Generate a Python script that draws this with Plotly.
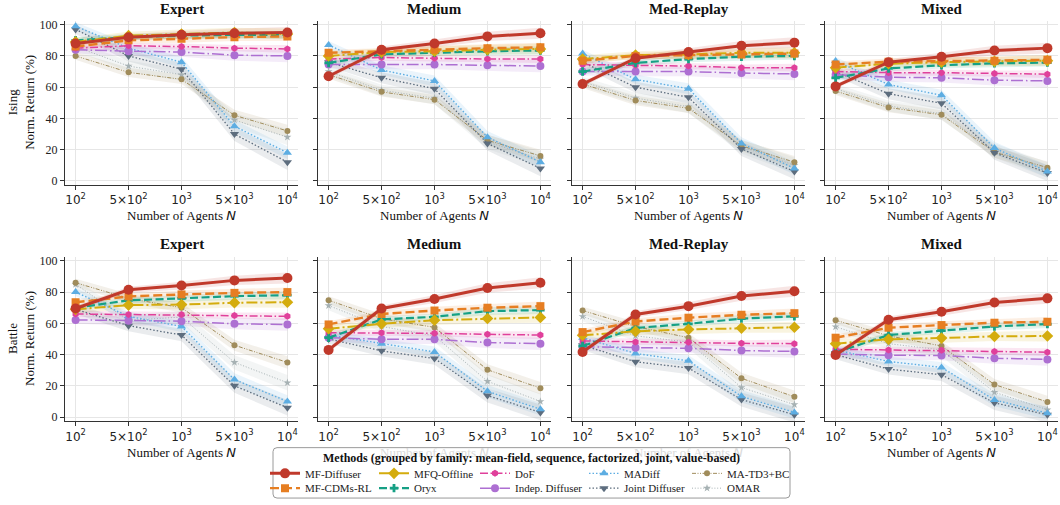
import plotly.graph_objects as go

W, H = 1060, 505

N_AGENTS = [100, 500, 1000, 5000, 10000]
X_TICK_LABELS = ["10<sup>2</sup>", "5×10<sup>2</sup>", "10<sup>3</sup>", "5×10<sup>3</sup>", "10<sup>4</sup>"]
Y_TICKS = [0, 20, 40, 60, 80, 100]
DATASETS = ["Expert", "Medium", "Med-Replay", "Mixed"]
ENVS = ["Ising", "Battle"]
METHODS = ["MF-Diffuser", "MF-CDMs-RL", "MFQ-Offline", "Oryx", "DoF",
           "Indep. Diffuser", "MADiff", "Joint Diffuser", "MA-TD3+BC", "OMAR"]
LEGEND_TITLE = "Methods (grouped by family: mean-field, sequence, factorized, joint, value-based)"

ising_expert = {
    "MF-Diffuser": [88, 92, 93.5, 94.5, 95],
    "MF-CDMs-RL": [86, 90, 91, 92, 92.5],
    "MFQ-Offline": [89, 93, 94, 95, 94],
    "Oryx": [90, 92, 93, 93.5, 93.5],
    "DoF": [85, 86.5, 86, 85, 84.5],
    "Indep. Diffuser": [84, 83, 82.5, 80.5, 80],
    "MADiff": [99, 85, 76, 35, 18],
    "Joint Diffuser": [97, 80, 71.5, 30, 12],
    "MA-TD3+BC": [80, 69.5, 65, 42, 32],
    "OMAR": [86, 73.5, 68, 39, 28],
}
ising_medium = {
    "MF-Diffuser": [67, 84, 88, 92.5, 94.5],
    "MF-CDMs-RL": [82, 83, 84, 85, 85.5],
    "MFQ-Offline": [80, 82.5, 83, 84, 84.5],
    "Oryx": [75.5, 81, 82, 83, 83.5],
    "DoF": [78, 79, 78.5, 78, 78],
    "Indep. Diffuser": [74.5, 74.5, 74.5, 74, 73.5],
    "MADiff": [87, 71, 64, 28, 12],
    "Joint Diffuser": [76, 66, 59, 24, 8],
    "MA-TD3+BC": [68, 57, 52, 26, 16],
    "OMAR": [70, 58, 53, 25, 14],
}
ising_medreplay = {
    "MF-Diffuser": [62, 78.5, 82.5, 86.5, 88.5],
    "MF-CDMs-RL": [77, 80, 80.5, 81, 81.5],
    "MFQ-Offline": [78, 80.5, 81, 82, 82],
    "Oryx": [70, 75.5, 78, 79.5, 80],
    "DoF": [74.5, 74, 73.5, 72.5, 72.5],
    "Indep. Diffuser": [70, 70, 70, 69, 68.5],
    "MADiff": [81.5, 65, 59, 24, 8],
    "Joint Diffuser": [76, 60, 53.5, 20.5, 6],
    "MA-TD3+BC": [62, 51.5, 46.5, 22.5, 12],
    "OMAR": [63.5, 53, 47.5, 22, 10],
}
ising_mixed = {
    "MF-Diffuser": [60.5, 76, 79.5, 83.5, 85],
    "MF-CDMs-RL": [74.5, 76.3, 76.7, 77, 77.5],
    "MFQ-Offline": [72.5, 75, 76, 76.5, 77],
    "Oryx": [66, 72, 74, 75.3, 75.7],
    "DoF": [70, 69.3, 69.3, 68.7, 68.3],
    "Indep. Diffuser": [68, 66.4, 66, 64.5, 64],
    "MADiff": [76.7, 61.7, 54.8, 21, 6],
    "Joint Diffuser": [70, 55.8, 49.7, 18, 5],
    "MA-TD3+BC": [57.5, 47, 42.3, 18.4, 8.5],
    "OMAR": [59, 48, 43, 19.5, 7],
}
battle_expert = {
    "MF-Diffuser": [69.5, 81.5, 84.2, 87.5, 89],
    "MF-CDMs-RL": [73.5, 77.2, 78.5, 79.5, 80],
    "MFQ-Offline": [69, 71.7, 72, 73.2, 73.5],
    "Oryx": [70, 74.7, 76, 77.4, 78],
    "DoF": [66, 65.6, 65.6, 65, 64.5],
    "Indep. Diffuser": [62.2, 61.6, 61.4, 59.7, 59.2],
    "MADiff": [80, 64.5, 58, 24, 10],
    "Joint Diffuser": [69, 58.5, 52.5, 20, 6],
    "MA-TD3+BC": [86, 76, 70, 46, 35],
    "OMAR": [85, 62, 64, 35, 22],
}
battle_medium = {
    "MF-Diffuser": [43, 69.5, 75.6, 82.6, 86],
    "MF-CDMs-RL": [59.3, 66, 68.2, 70, 71],
    "MFQ-Offline": [56.6, 59.7, 62, 63.1, 63.8],
    "Oryx": [50.8, 62.5, 64.2, 67.8, 68.5],
    "DoF": [54, 54, 53.6, 53, 52.5],
    "Indep. Diffuser": [50.8, 49.8, 49.8, 47.7, 47],
    "MADiff": [52.5, 47, 41.7, 16.5, 5],
    "Joint Diffuser": [50, 42.4, 37.5, 13.8, 3],
    "MA-TD3+BC": [74.8, 63, 57.4, 30.3, 18.5],
    "OMAR": [71.4, 58, 52, 22.9, 10],
}
battle_medreplay = {
    "MF-Diffuser": [41.7, 65.7, 71, 77.5, 80.5],
    "MF-CDMs-RL": [54.4, 61.2, 63.6, 65.5, 66.5],
    "MFQ-Offline": [52.3, 54.9, 56.1, 57, 57.5],
    "Oryx": [45.5, 57, 59.7, 63, 64.5],
    "DoF": [48.7, 48.1, 47.9, 47.2, 47],
    "Indep. Diffuser": [45, 44.3, 44, 42.6, 42],
    "MADiff": [50.8, 40.7, 36, 13.3, 3],
    "Joint Diffuser": [46, 35.4, 31.4, 11.2, 1.5],
    "MA-TD3+BC": [68.2, 58, 50.8, 24.8, 13],
    "OMAR": [64.4, 52, 48, 18.9, 8],
}
battle_mixed = {
    "MF-Diffuser": [39.8, 62.3, 67.4, 73.3, 76],
    "MF-CDMs-RL": [50.8, 57.2, 58.9, 60.4, 61],
    "MFQ-Offline": [47, 49.8, 50.6, 51.7, 51.9],
    "Oryx": [41.3, 52.5, 55.3, 58, 59.5],
    "DoF": [43.4, 43, 42.8, 42, 41.5],
    "Indep. Diffuser": [40.3, 39.6, 39.4, 37.7, 36.9],
    "MADiff": [43, 35.6, 31.8, 11, 2.5],
    "Joint Diffuser": [40, 30.7, 27.1, 9.1, 1.5],
    "MA-TD3+BC": [62, 52, 45.5, 20.8, 9.7],
    "OMAR": [57.8, 47, 43, 15.9, 4.7],
}
# estimated half-width of the shaded bands (std) per method
BAND_STD = {
    "MF-Diffuser": [1.5, 2, 2.5, 3, 3.5],
    "MF-CDMs-RL": [2, 2, 2.5, 2.5, 3],
    "MFQ-Offline": [2.5, 2.5, 3, 3, 3.5],
    "Oryx": [2, 2, 2, 2.5, 2.5],
    "DoF": [2, 2, 2, 2, 2.5],
    "Indep. Diffuser": [2.5, 3, 3, 3.5, 4],
    "MADiff": [2.5, 3, 3.5, 4, 4],
    "Joint Diffuser": [3, 3.5, 4, 4.5, 5],
    "MA-TD3+BC": [2.5, 3, 3, 3.5, 4],
    "OMAR": [3, 3.5, 4, 4.5, 5],
}
PANELS = [[ising_expert, ising_medium, ising_medreplay, ising_mixed],
          [battle_expert, battle_medium, battle_medreplay, battle_mixed]]

STYLE = {
    "MF-Diffuser": dict(color="#c0392b", dash="solid", width=3.0, symbol="circle", size=10),
    "MF-CDMs-RL": dict(color="#e67e22", dash="9px,4px", width=2.4, symbol="square", size=8),
    "MFQ-Offline": dict(color="#d4ac0d", dash="11px,3px,2px,3px", width=2.0, symbol="diamond", size=9),
    "Oryx": dict(color="#16a085", dash="8px,3.5px", width=2.2, symbol="cross", size=7),
    "DoF": dict(color="#e0409b", dash="8px,2.5px,1.5px,2.5px", width=1.5, symbol="hexagon", size=7),
    "Indep. Diffuser": dict(color="#ad6fd2", dash="12px,3px,1.5px,3px", width=1.5, symbol="circle", size=8),
    "MADiff": dict(color="#5dade2", dash="1.5px,2px", width=1.4, symbol="triangle-up", size=8),
    "Joint Diffuser": dict(color="#5d6d7e", dash="1.5px,2px", width=1.3, symbol="triangle-down", size=8),
    "MA-TD3+BC": dict(color="#a08c5b", dash="4px,1.5px,1px,1.5px,1px,1.5px", width=1.0, symbol="circle", size=6),
    "OMAR": dict(color="#a6b1b3", dash="1px,1.8px", width=1.0, symbol="star", size=6),
}


def rgba(hexc, a):
    h = hexc.lstrip("#")
    r, g, b = int(h[0:2], 16), int(h[2:4], 16), int(h[4:6], 16)
    return f"rgba({r},{g},{b},{a})"


def fx(p):
    return p / W


def fy(p):
    return 1 - p / H


COL_PX = [(65, 298), (318, 551), (572, 805), (825, 1058)]
ROW_PX = [(18, 184), (257, 423)]

SERIF = "Liberation Serif, Times New Roman, serif"
SANS = "DejaVu Sans, sans-serif"
AX = "#333333"

fig = go.Figure()
layout = dict(width=W, height=H, margin=dict(l=0, r=0, t=0, b=0),
              paper_bgcolor="white", plot_bgcolor="white", showlegend=True)

xs = list(range(len(N_AGENTS)))

band_traces, line_traces = [], []
for r in range(2):
    for c in range(4):
        k = r * 4 + c + 1
        xa = "x" if k == 1 else f"x{k}"
        ya = "y" if k == 1 else f"y{k}"
        xkey = "xaxis" if k == 1 else f"xaxis{k}"
        ykey = "yaxis" if k == 1 else f"yaxis{k}"
        layout[xkey] = dict(
            domain=[fx(COL_PX[c][0]), fx(COL_PX[c][1])], anchor=ya,
            range=[-0.2, len(N_AGENTS) - 1 + 0.2], tickmode="array",
            tickvals=xs, ticktext=X_TICK_LABELS,
            tickfont=dict(family=SANS, size=12, color="#222"),
            showline=True, linecolor=AX, linewidth=1.3, ticks="outside",
            ticklen=4, tickwidth=1.2, tickcolor=AX, showgrid=True,
            gridcolor="#e6e6e6", gridwidth=1, zeroline=False)
        layout[ykey] = dict(
            domain=[fy(ROW_PX[r][1]), fy(ROW_PX[r][0])], anchor=xa,
            range=[-2.5, 102.5], tickmode="array", tickvals=Y_TICKS,
            showticklabels=(c == 0),
            tickfont=dict(family=SERIF, size=12, color="#222"),
            showline=True, linecolor=AX, linewidth=1.3, ticks="outside",
            ticklen=4, tickwidth=1.2, tickcolor=AX, showgrid=True,
            gridcolor="#e6e6e6", gridwidth=1, zeroline=False)
        data = PANELS[r][c]
        for m in METHODS:
            st = STYLE[m]
            vals = data[m]
            sd = BAND_STD[m]
            up = [v + s for v, s in zip(vals, sd)]
            lo = [v - s for v, s in zip(vals, sd)]
            band_traces.append(go.Scatter(
                x=xs + xs[::-1], y=up + lo[::-1], xaxis=xa, yaxis=ya,
                fill="toself", fillcolor=rgba(st["color"], 0.13),
                line=dict(width=0), mode="lines", hoverinfo="skip",
                showlegend=False))
        for i, m in reversed(list(enumerate(METHODS))):
            st = STYLE[m]
            first = (k == 1)
            line_traces.append(go.Scatter(
                x=xs, y=data[m], xaxis=xa, yaxis=ya, mode="lines+markers",
                name=m, legend=("legend" if i == 0 else f"legend{i + 1}"),
                showlegend=first,
                line=dict(color=st["color"], width=st["width"], dash=st["dash"]),
                marker=dict(symbol=st["symbol"], size=st["size"], color=st["color"],
                            line=dict(width=0))))

for t in band_traces + line_traces:
    fig.add_trace(t)

# legend box
LX0, LX1, LY0, LY1 = 273, 790, 450, 501
rad = 4
path = (f"M {fx(LX0 + rad)},{fy(LY0)} L {fx(LX1 - rad)},{fy(LY0)} "
        f"Q {fx(LX1)},{fy(LY0)} {fx(LX1)},{fy(LY0 + rad)} "
        f"L {fx(LX1)},{fy(LY1 - rad)} Q {fx(LX1)},{fy(LY1)} {fx(LX1 - rad)},{fy(LY1)} "
        f"L {fx(LX0 + rad)},{fy(LY1)} Q {fx(LX0)},{fy(LY1)} {fx(LX0)},{fy(LY1 - rad)} "
        f"L {fx(LX0)},{fy(LY0 + rad)} Q {fx(LX0)},{fy(LY0)} {fx(LX0 + rad)},{fy(LY0)} Z")
layout["shapes"] = [dict(type="path", path=path, xref="paper", yref="paper",
                         fillcolor="rgba(255,255,255,0.82)",
                         line=dict(color="#9a9a9a", width=1), layer="above")]

# separate legends, one per entry, arranged in 5 columns x 2 rows
TEXT_X = [305, 414, 515, 624, 727]
ROW_Y = [476, 491]
for i, m in enumerate(METHODS):
    key = "legend" if i == 0 else f"legend{i + 1}"
    layout[key] = dict(x=fx(TEXT_X[i // 2] - 40), y=fy(ROW_Y[i % 2]),
                       xanchor="left", yanchor="middle", xref="paper", yref="paper",
                       bgcolor="rgba(0,0,0,0)", borderwidth=0, itemwidth=30,
                       font=dict(family=SERIF, size=11, color="#222"))

ann = []
for r in range(2):
    for c in range(4):
        cx = (COL_PX[c][0] + COL_PX[c][1]) / 2
        ty = 6 if r == 0 else 244
        ann.append(dict(text=f"<b>{DATASETS[c]}</b>", x=fx(cx), y=fy(ty), xref="paper",
                        yref="paper", showarrow=False, xanchor="center", yanchor="middle",
                        font=dict(family=SERIF, size=15, color="#111")))
        xy = 215 if r == 0 else 455
        faint = (r == 1 and c in (1, 2))
        ann.append(dict(text=f"Number of Agents <span style='font-family:DejaVu Sans'><i>N</i></span>",
                        x=fx(cx), y=fy(xy), xref="paper", yref="paper", showarrow=False,
                        xanchor="center", yanchor="middle",
                        font=dict(family=SERIF, size=13, color="#dadada" if faint else "#111")))
    cy = (ROW_PX[r][0] + ROW_PX[r][1]) / 2
    ann.append(dict(text=f"{ENVS[r]}<br>Norm. Return (%)", x=fx(21), y=fy(cy),
                    xref="paper", yref="paper", showarrow=False, textangle=-90,
                    xanchor="center", yanchor="middle",
                    font=dict(family=SERIF, size=13, color="#111")))
ann.append(dict(text=f"<b>{LEGEND_TITLE}</b>", x=fx((LX0 + LX1) / 2), y=fy(460),
                xref="paper", yref="paper", showarrow=False, xanchor="center",
                yanchor="middle", font=dict(family=SERIF, size=12, color="#111")))
layout["annotations"] = ann

fig.update_layout(**layout)
fig.write_html("out.html")
